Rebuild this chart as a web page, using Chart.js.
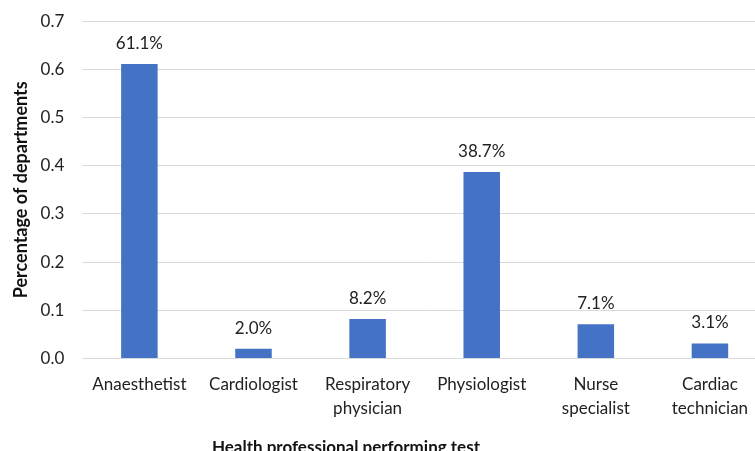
<!DOCTYPE html>
<html>
<head>
<meta charset="utf-8">
<script src="https://cdn.jsdelivr.net/npm/chart.js@4"></script>
<style>
  html, body { margin: 0; padding: 0; background: #fff; overflow: hidden; }
  #wrap { position: relative; top: -7px; width: 767px; height: 468px; }
</style>
</head>
<body>
<div id="wrap"><canvas id="chart"></canvas></div>
<script>
const categories = [
  'Anaesthetist',
  'Cardiologist',
  ['Respiratory', 'physician'],
  'Physiologist',
  ['Nurse', 'specialist'],
  ['Cardiac', 'technician'],
];
const shares = [0.611, 0.020, 0.082, 0.387, 0.071, 0.031];
const yTicks = [0, 0.1, 0.2, 0.3, 0.4, 0.5, 0.6, 0.7];

const FONT = 'Lato, "Open Sans", sans-serif';

const barLabels = {
  id: 'barLabels',
  afterDatasetsDraw(chart) {
    const ctx = chart.ctx;
    const meta = chart.getDatasetMeta(0);
    ctx.save();
    ctx.font = `17px ${FONT}`;
    ctx.fillStyle = '#222';
    ctx.textAlign = 'center';
    ctx.textBaseline = 'alphabetic';
    meta.data.forEach((bar, i) => {
      ctx.fillText((shares[i] * 100).toFixed(1) + '%', bar.x, bar.y - 15);
    });
    ctx.restore();
  },
};

const xTitle = {
  id: 'xTitle',
  afterDraw(chart) {
    const { ctx, chartArea } = chart;
    ctx.save();
    ctx.font = `bold 17px ${FONT}`;
    ctx.fillStyle = '#111';
    ctx.textAlign = 'center';
    ctx.textBaseline = 'top';
    ctx.fillText('Health professional performing test', chartArea.left + (chartArea.right - chartArea.left) * 0.385, 446);
    ctx.restore();
  },
};

new Chart(document.getElementById('chart'), {
  type: 'bar',
  data: {
    labels: categories,
    datasets: [{
      data: shares,
      backgroundColor: '#4472C4',
      barPercentage: 0.5,
      categoryPercentage: 0.64,
    }],
  },
  options: {
    responsive: true,
    maintainAspectRatio: false,
    animation: false,
    layout: { padding: { top: 2, right: 0, bottom: 35, left: 10 } },
    plugins: {
      legend: { display: false },
      tooltip: { enabled: false },
    },
    scales: {
      x: {
        grid: { display: false },
        border: { color: '#d9d9d9' },
        ticks: {
          color: '#222',
          font: { family: FONT, size: 17, lineHeight: 1.4 },
          maxRotation: 0,
          autoSkip: false,
          padding: 6,
        },
      },
      y: {
        min: 0,
        max: 0.7,
        afterBuildTicks: scale => { scale.ticks = yTicks.map(v => ({ value: v })); },
        grid: { color: '#d9d9d9', drawTicks: false },
        border: { display: false },
        ticks: {
          color: '#222',
          font: { family: FONT, size: 17 },
          padding: 18,
          callback: v => Number(v).toFixed(1),
        },
        title: {
          display: true,
          text: 'Percentage of departments',
          color: '#111',
          font: { family: FONT, size: 18, weight: 'bold' },
          padding: { top: 0, bottom: -9 },
        },
      },
    },
  },
  plugins: [barLabels, xTitle],
});
</script>
</body>
</html>
